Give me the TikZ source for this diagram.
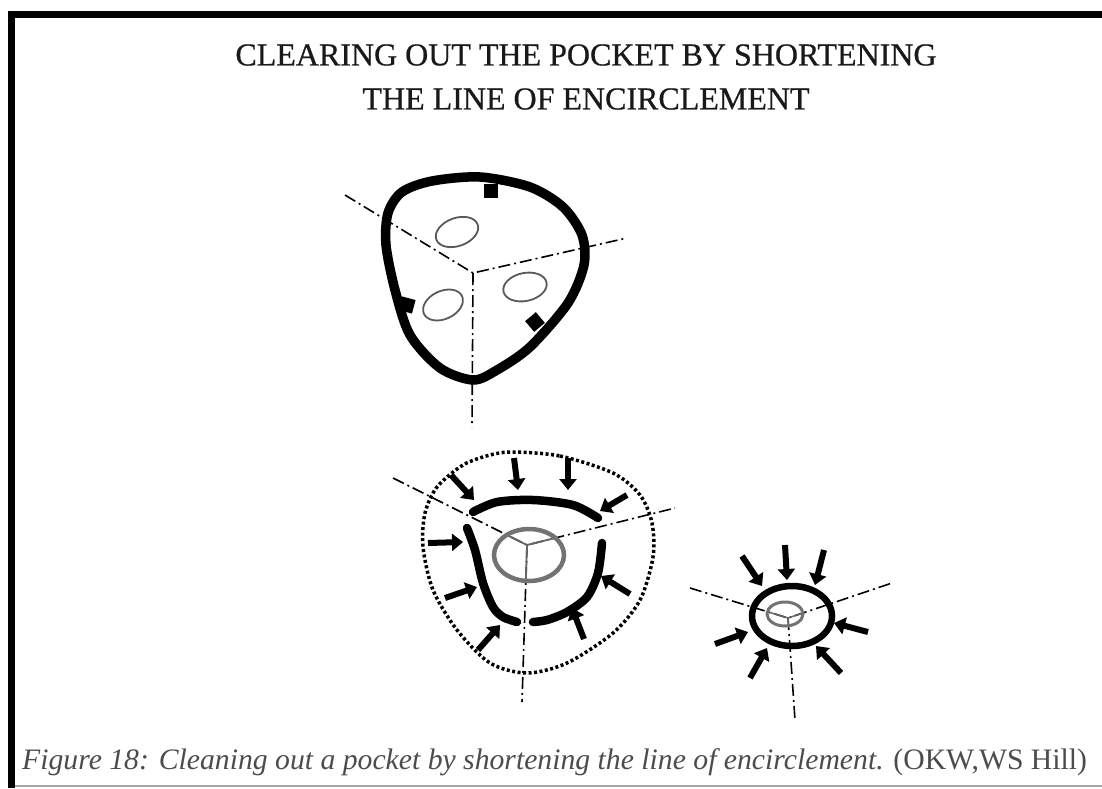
\documentclass[tikz,border=0pt]{standalone}
\usepackage{fontspec}
\setmainfont{Liberation Serif}
\usetikzlibrary{arrows.meta}

\begin{document}
\begin{tikzpicture}[x=1pt,y=-1pt,
    pocket/.style={line width=9.5pt,line join=round},
    cutline/.style={line width=1.6pt,dash pattern=on 12pt off 4pt on 2pt off 4pt},
    unit/.style={line width=1.8pt,black!65},
    push/.style={line width=6pt,-{Triangle[length=11pt,width=17pt]}},
    front/.style={line width=8.5pt,line cap=round},
    ring/.style={line width=4.5pt,black!55},
    outer/.style={line width=3.5pt,dash pattern=on 3pt off 2.5pt},
    heading/.style={inner sep=0,black!90,font=\fontsize{32}{38}\selectfont\addfontfeature{FakeBold=0.6}}]
  \useasboundingbox (0,0) rectangle (1102,788);
  % frame
  \fill (8,11) rectangle (1102,18);
  \fill (8,11) rectangle (15,788);
  \draw[black!35,line width=2pt] (15,786) -- (1102,786);
  % title
  \node[heading] (title1) at (586,55) {CLEARING OUT THE POCKET BY SHORTENING};
  \node[heading] (title2) at (586,99) {THE LINE OF ENCIRCLEMENT};
  % caption
  \node[inner sep=0,black!70,font=\fontsize{29.7}{35}\selectfont\itshape,anchor=west] (caption) at (22,762)
    {Figure 18: Cleaning out a pocket by shortening the line of encirclement. {\upshape(OKW,WS Hill)}};

  % first stage: the whole pocket
  \coordinate (hub1) at (473,273);
  \draw[cutline] (345,195) -- (hub1) -- (627,238);
  \draw[cutline] (hub1) -- (472,427);
  \draw[pocket] plot[smooth cycle] coordinates
    {(480,177)(530,187)(563,207)(582,235)(584,265)(568,303)(530,347)(497,370)(473,380)(440,368)(410,335)(395,290)(386,245)(388,213)(402,192)(432,181)};
  \fill (484,184) rectangle (498,198);
  \fill[rotate around={-15:(407,305)}] (400,298) rectangle (414,312);
  \fill[rotate around={40:(535,322)}] (528,315) rectangle (542,329);
  \draw[unit,rotate around={20:(457,232)}] (457,232) ellipse [x radius=22,y radius=14];
  \draw[unit,rotate around={25:(443,305)}] (443,305) ellipse [x radius=21,y radius=14];
  \draw[unit,rotate around={12:(525,287)}] (525,287) ellipse [x radius=22,y radius=14];

  % second stage: line pulled in
  \coordinate (hub2) at (527,545);
  \draw[outer] plot[smooth cycle] coordinates
    {(513,452)(560,456)(613,473)(640,495)(652,523)(653,557)(640,600)(613,633)(567,663)(527,673)(490,663)(457,630)(433,590)(423,547)(425,513)(437,487)(463,465)(490,455)};
  \draw[cutline] (393,478) -- (hub2) -- (675,508);
  \draw[cutline] (hub2) -- (522,702);
  \begin{scope}
    \clip (529,555) ellipse [x radius=35,y radius=26];
    \draw[black!60,line width=1.8pt] (393,478) -- (hub2) -- (675,508) (hub2) -- (522,702);
  \end{scope}
  \draw[ring] (529,555) ellipse [x radius=35,y radius=26];
  \draw[front] plot[smooth] coordinates {(473,512)(497,502)(533,500)(573,505)(598,518)};
  \draw[front] plot[smooth] coordinates {(467,528)(475,550)(483,583)(493,607)(503,617)(517,622)};
  \draw[front] plot[smooth] coordinates {(602,543)(598,573)(587,597)(567,612)(547,620)(533,622)};
  \draw[push] (514,458) -- (518,490);
  \draw[push] (568,458) -- (568,490);
  \draw[push] (451,475) -- (474,500);
  \draw[push] (627,495) -- (600,511);
  \draw[push] (428,543) -- (463,542);
  \draw[push] (445,598) -- (477,587);
  \draw[push] (478,650) -- (500,625);
  \draw[push] (584,639) -- (572,608);
  \draw[push] (630,594) -- (601,576);

  % third stage: pocket almost cleared
  \coordinate (hub3) at (788,618);
  \draw[cutline] (690,588) -- (hub3) -- (892,583);
  \draw[cutline] (hub3) -- (795,720);
  \begin{scope}
    \clip (785,614) ellipse [x radius=18,y radius=12];
    \draw[black!60,line width=1.5pt] (690,588) -- (hub3) -- (892,583) (hub3) -- (795,720);
  \end{scope}
  \draw[black!55,line width=3pt] (785,614) ellipse [x radius=18,y radius=12];
  \draw[line width=6.5pt] (792,616) ellipse [x radius=40,y radius=30];
  \draw[push] (742,556) -- (762,586);
  \draw[push] (785,545) -- (787,580);
  \draw[push] (824,550) -- (815,585);
  \draw[push] (868,632) -- (834,623);
  \draw[push] (715,644) -- (748,632);
  \draw[push] (750,678) -- (767,648);
  \draw[push] (841,673) -- (816,646);
\end{tikzpicture}
\end{document}
